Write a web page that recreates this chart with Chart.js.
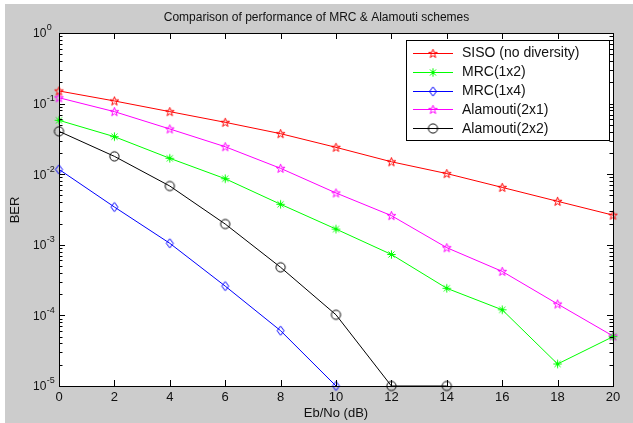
<!DOCTYPE html>
<html>
<head>
<meta charset="utf-8">
<script src="https://cdn.jsdelivr.net/npm/chart.js@4"></script>
<style>
html,body{margin:0;padding:0;background:#ffffff;}
#c{display:block;}
</style>
</head>
<body>
<canvas id="c" width="633" height="423"></canvas>
<script>
// ---- data ----
const ebNo = [0, 2, 4, 6, 8, 10, 12, 14, 16, 18, 20];
const sisoBER     = [0.151, 0.109, 0.0769, 0.0543, 0.0375, 0.024, 0.0150, 0.0102, 0.0065, 0.00413, 0.00263];
const mrc1x2BER   = [0.058, 0.034, 0.0168, 0.00863, 0.00375, 0.00167, 0.00073, 0.000242, 0.000120, 0.0000205, 0.000050];
const mrc1x4BER   = [0.0117, 0.00343, 0.00105, 0.00026, 0.0000607, 0.00001, null, null, null, null, null];
const alam2x1BER  = [0.121, 0.0769, 0.0437, 0.0245, 0.0121, 0.00542, 0.00259, 0.00091, 0.00042, 0.000145, 0.000051];
const alam2x2BER  = [0.0405, 0.0179, 0.0068, 0.00197, 0.00048, 0.000102, 0.00001, 0.00001, null, null, null];
const seriesNames = ['SISO (no diversity)', 'MRC(1x2)', 'MRC(1x4)', 'Alamouti(2x1)', 'Alamouti(2x2)'];
const xTickLabels = ['0', '2', '4', '6', '8', '10', '12', '14', '16', '18', '20'];
const yTickExponents = ['0', '-1', '-2', '-3', '-4', '-5'];
const titleText = 'Comparison of performance of MRC & Alamouti schemes';
const xTitle = 'Eb/No (dB)';
const yTitle = 'BER';

// ---- marker images ----
function makeCanvas(w, h) { const c = document.createElement('canvas'); c.width = w; c.height = h; return c; }
function pentagram(color) {
  const c = makeCanvas(13, 13), g = c.getContext('2d');
  const cx = 6.5, cy = 6.8, R = 4.6, r = 1.85;
  g.beginPath();
  for (let i = 0; i < 10; i++) {
    const a = -Math.PI / 2 + i * Math.PI / 5;
    const rr = i % 2 === 0 ? R : r;
    const px = cx + rr * Math.cos(a), py = cy + rr * Math.sin(a);
    if (i === 0) g.moveTo(px, py); else g.lineTo(px, py);
  }
  g.closePath();
  g.strokeStyle = color; g.lineWidth = 1; g.stroke();
  return c;
}
function diamond(color) {
  const c = makeCanvas(11, 13), g = c.getContext('2d');
  const cx = 5.5, cy = 6.5;
  g.beginPath();
  g.moveTo(cx, cy - 4.6); g.lineTo(cx + 3.5, cy); g.lineTo(cx, cy + 4.6); g.lineTo(cx - 3.5, cy); g.closePath();
  g.strokeStyle = color; g.lineWidth = 1; g.stroke();
  return c;
}
function asterisk(color) {
  const c = makeCanvas(13, 13), g = c.getContext('2d');
  const cx = 6.5, cy = 6.5, R = 4.2;
  g.strokeStyle = color; g.lineWidth = 1;
  g.beginPath();
  g.moveTo(cx - R, cy); g.lineTo(cx + R, cy);
  g.moveTo(cx, cy - R); g.lineTo(cx, cy + R);
  const d = R * 0.72;
  g.moveTo(cx - d, cy - d); g.lineTo(cx + d, cy + d);
  g.moveTo(cx - d, cy + d); g.lineTo(cx + d, cy - d);
  g.stroke();
  return c;
}
function circleMk(color) {
  const c = makeCanvas(13, 13), g = c.getContext('2d');
  g.beginPath(); g.arc(6.5, 6.5, 4.6, 0, Math.PI * 2);
  g.strokeStyle = color; g.lineWidth = 1; g.stroke();
  return c;
}

const colors = ['#ff0000', '#00ff00', '#0000ff', '#ff00ff', '#000000'];
const markers = [pentagram('#ff0000'), asterisk('#00ff00'), diamond('#0000ff'), pentagram('#ff00ff'), circleMk('#000000')];
const values = [sisoBER, mrc1x2BER, mrc1x4BER, alam2x1BER, alam2x2BER];

const datasets = values.map((v, i) => ({
  label: seriesNames[i],
  data: ebNo.map((x, j) => ({ x: x, y: v[j] })),
  borderColor: colors[i],
  backgroundColor: colors[i],
  borderWidth: 1,
  pointStyle: markers[i],
  pointRadius: 5,
  pointHoverRadius: 5,
  tension: 0,
  spanGaps: false,
  clip: false
}));

const FONT = '"Liberation Sans", Arial, Helvetica, sans-serif';

const decorPlugin = {
  id: 'decor',
  beforeDraw(chart) {
    const ctx = chart.ctx, a = chart.chartArea;
    ctx.save();
    ctx.fillStyle = '#ffffff';
    ctx.fillRect(0, 0, chart.width, chart.height);
    ctx.fillStyle = '#cccccc';
    ctx.fillRect(5, 4, chart.width - 5, chart.height - 4);
    ctx.fillStyle = '#ffffff';
    ctx.fillRect(a.left, a.top, a.right - a.left, a.bottom - a.top);
    ctx.restore();
  },
  afterDatasetsDraw(chart) {
    const ctx = chart.ctx, a = chart.chartArea;
    const xs = chart.scales.x, ys = chart.scales.y;
    ctx.save();
    ctx.strokeStyle = '#000000';
    ctx.lineWidth = 1;
    // box
    ctx.strokeRect(Math.round(a.left) + 0.5, Math.round(a.top) + 0.5, Math.round(a.right - a.left), Math.round(a.bottom - a.top));
    // x ticks (inward, bottom & top)
    ctx.beginPath();
    ebNo.forEach(v => {
      const px = Math.round(xs.getPixelForValue(v)) + 0.5;
      ctx.moveTo(px, a.bottom); ctx.lineTo(px, a.bottom - 6);
      ctx.moveTo(px, a.top); ctx.lineTo(px, a.top + 6);
    });
    // y ticks (log, inward, left & right)
    for (let e = -5; e <= 0; e++) {
      const py = Math.round(ys.getPixelForValue(Math.pow(10, e))) + 0.5;
      ctx.moveTo(a.left, py); ctx.lineTo(a.left + 6, py);
      ctx.moveTo(a.right, py); ctx.lineTo(a.right - 6, py);
      if (e < 0) {
        for (let k = 2; k <= 9; k++) {
          const pm = Math.round(ys.getPixelForValue(k * Math.pow(10, e))) + 0.5;
          ctx.moveTo(a.left, pm); ctx.lineTo(a.left + 3.5, pm);
          ctx.moveTo(a.right, pm); ctx.lineTo(a.right - 3.5, pm);
        }
      }
    }
    ctx.stroke();

    ctx.fillStyle = '#111111';
    // x tick labels
    ctx.font = '13px ' + FONT;
    ctx.textAlign = 'center';
    ctx.textBaseline = 'middle';
    ebNo.forEach((v, i) => {
      ctx.fillText(xTickLabels[i], xs.getPixelForValue(v), 397);
    });
    // y tick labels 10^e
    yTickExponents.forEach(ex => {
      const py = ys.getPixelForValue(Math.pow(10, Number(ex)));
      ctx.font = '12px ' + FONT;
      ctx.textAlign = 'left';
      ctx.textBaseline = 'middle';
      ctx.fillText('10', 33, py + 1);
      const w = ctx.measureText('10').width;
      ctx.font = '9px ' + FONT;
      ctx.fillText(ex, 33 + w + 0.5, py - 5);
    });
    // title
    ctx.font = '12px ' + FONT;
    ctx.textAlign = 'center';
    ctx.textBaseline = 'middle';
    ctx.fillText(titleText, 316.5, 18);
    // x title
    ctx.font = '13px ' + FONT;
    ctx.fillText(xTitle, (a.left + a.right) / 2, 413);
    // y title
    ctx.save();
    ctx.translate(15.5, 210);
    ctx.rotate(-Math.PI / 2);
    ctx.fillText(yTitle, 0, 0);
    ctx.restore();

    // legend
    const lx = 406, ly = 40, lw = 203, lh = 100;
    ctx.fillStyle = '#ffffff';
    ctx.fillRect(lx, ly, lw, lh);
    ctx.strokeStyle = '#000000';
    ctx.strokeRect(lx + 0.5, ly + 0.5, lw, lh);
    ctx.font = '14px ' + FONT;
    ctx.textAlign = 'left';
    ctx.textBaseline = 'middle';
    seriesNames.forEach((name, i) => {
      const yy = 53 + i * 18.8;
      ctx.strokeStyle = colors[i];
      ctx.beginPath();
      ctx.moveTo(413, Math.round(yy) + 0.5); ctx.lineTo(453, Math.round(yy) + 0.5);
      ctx.stroke();
      const m = markers[i];
      ctx.drawImage(m, 433 - m.width / 2, Math.round(yy) + 0.5 - m.height / 2);
      ctx.fillStyle = '#111111';
      ctx.fillText(name, 462, yy + 0.5);
    });
    ctx.restore();
  }
};

new Chart(document.getElementById('c'), {
  type: 'line',
  data: { datasets: datasets },
  options: {
    responsive: false,
    animation: false,
    devicePixelRatio: 1,
    layout: { padding: { left: 0, right: 20, top: 33, bottom: 0 } },
    plugins: { legend: { display: false }, title: { display: false }, tooltip: { enabled: false } },
    scales: {
      x: {
        type: 'linear', min: 0, max: 20,
        grid: { display: false, drawTicks: false },
        border: { display: false },
        ticks: { display: false },
        afterFit: s => { s.height = 37; }
      },
      y: {
        type: 'logarithmic', min: 0.00001, max: 1,
        grid: { display: false, drawTicks: false },
        border: { display: false },
        ticks: { display: false },
        afterFit: s => { s.width = 59; }
      }
    }
  },
  plugins: [decorPlugin]
});
</script>
</body>
</html>
